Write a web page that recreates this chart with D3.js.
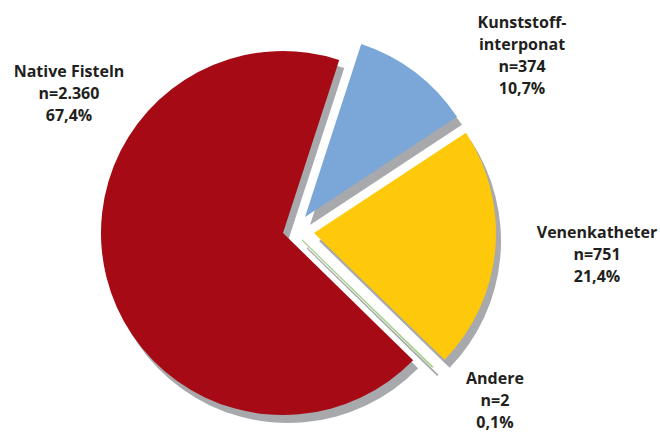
<!DOCTYPE html>
<html>
<head>
<meta charset="utf-8">
<script src="https://cdn.jsdelivr.net/npm/d3@7"></script>
<style>
  html, body { margin: 0; padding: 0; background: #ffffff; }
  svg { display: block; }
  text { font-family: "Open Sans", "Noto Sans", sans-serif; font-weight: 700; fill: #231f20; }
</style>
</head>
<body>
<svg id="chart" width="660" height="434"></svg>
<script>
// ---- data ----
const categories = ["Kunststoff-interponat", "Venenkatheter", "Andere", "Native Fisteln"];
const counts = [374, 751, 2, 2360];
const countLabels = ["n=374", "n=751", "n=2", "n=2.360"];
const percentLabels = ["10,7%", "21,4%", "0,1%", "67,4%"];
const nameLines = [["Kunststoff-", "interponat"], ["Venenkatheter"], ["Andere"], ["Native Fisteln"]];
const colors = ["#7ba7d8", "#fec80b", "#a9d18e", "#a50a15"];

// ---- layout ----
const W = 660, H = 434;
const cx = 283, cy = 233, R = 182;
const startDeg = 18;
const explode = [[22, -16], [31, 0], [19, 7], [0, 0]];
const shadowOffset = [5, 8];
const labelPos = [[522, 28], [597, 238], [495, 384], [69, 77]];
const lineGap = 22;

const svg = d3.select("#chart");
const rad = d => d * Math.PI / 180;

const pie = d3.pie().sort(null).value(d => d.value)
  .startAngle(rad(startDeg)).endAngle(rad(startDeg + 360));
const data = categories.map((c, i) => ({ name: c, value: counts[i], i }));
const arcs = pie(data);
const arc = d3.arc().innerRadius(0).outerRadius(R);

const root = svg.append("g").attr("transform", `translate(${cx},${cy})`);

// shadows
const sh = root.append("g").attr("transform", `translate(${shadowOffset[0]},${shadowOffset[1]})`);
sh.selectAll("path").data(arcs).join("path")
  .attr("transform", d => `translate(${explode[d.data.i][0]},${explode[d.data.i][1]})`)
  .attr("d", arc)
  .attr("fill", "#a7a9ac")
  .attr("stroke", d => d.data.value < 10 ? "#a7a9ac" : "none")
  .attr("stroke-width", 1.2);

// slices (draw big one first)
const order = [3, 0, 1, 2];
root.append("g").selectAll("path").data(order.map(k => arcs[k])).join("path")
  .attr("transform", d => `translate(${explode[d.data.i][0]},${explode[d.data.i][1]})`)
  .attr("d", arc)
  .attr("fill", d => colors[d.data.i])
  .attr("stroke", d => d.data.value < 10 ? colors[d.data.i] : "none")
  .attr("stroke-width", 1.2);

// labels
data.forEach((d, i) => {
  const lines = nameLines[i].concat([countLabels[i], percentLabels[i]]);
  const t = svg.append("text")
    .attr("x", labelPos[i][0]).attr("y", labelPos[i][1])
    .attr("text-anchor", "middle")
    .attr("font-size", 16);
  lines.forEach((ln, j) => {
    t.append("tspan").attr("x", labelPos[i][0]).attr("dy", j === 0 ? 0 : lineGap).text(ln);
  });
});
</script>
</body>
</html>
